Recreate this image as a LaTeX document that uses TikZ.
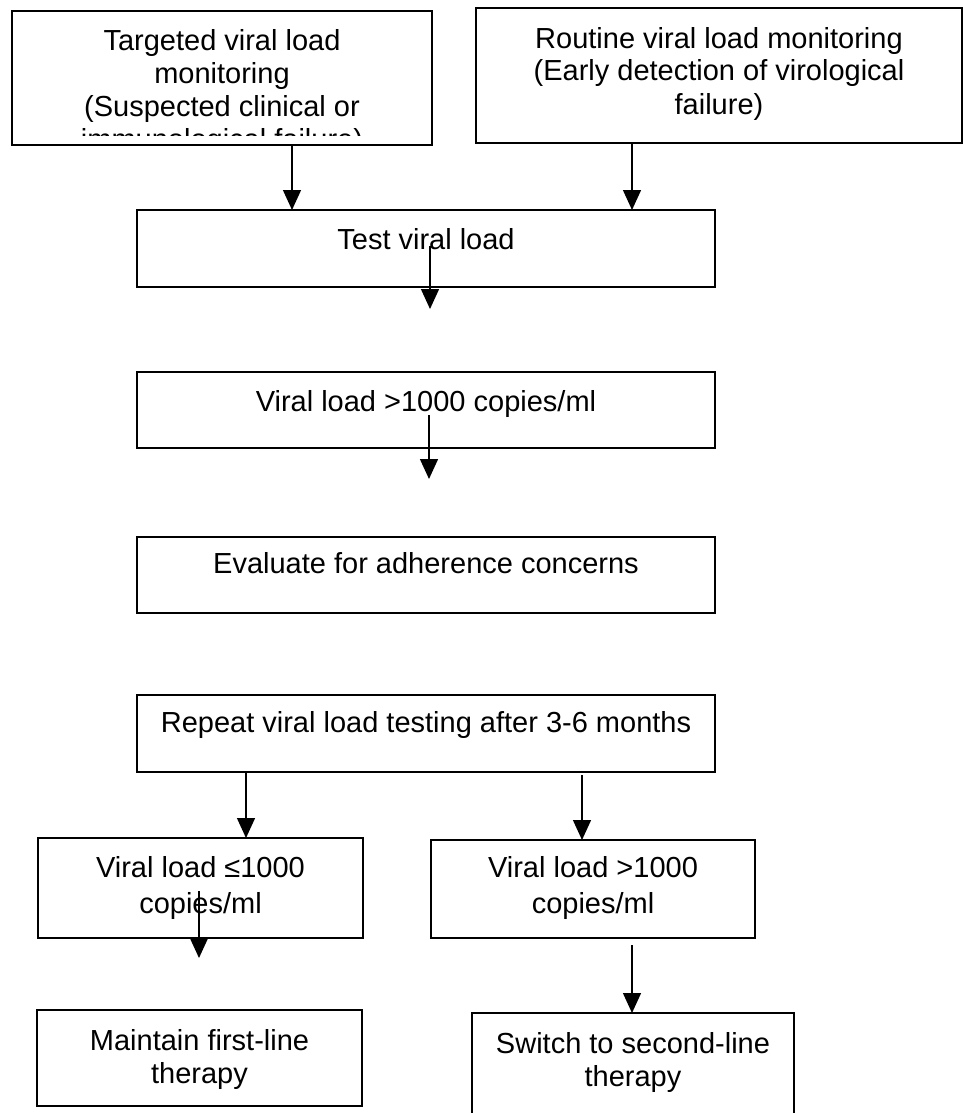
\documentclass[tikz,border=0pt]{standalone}
\usepackage{fontspec}
\setmainfont{Liberation Sans}
\usetikzlibrary{arrows.meta}
\tikzset{
  box/.style={draw=black, line width=1.7pt, anchor=north west, inner sep=0pt, outer sep=0pt},
  % multi-line texts are placed by the baseline of their last line
  txt/.style={font=\fontsize{29}{33}\selectfont, align=center, anchor=base, inner sep=0pt},
  widetxt/.style={txt, font=\fontsize{29}{36}\selectfont},
  arr/.style={line width=1.4pt, -{Triangle[length=20pt,width=18pt]}},
}
\begin{document}
\begin{tikzpicture}[x=1pt,y=-1pt]
\useasboundingbox (0,0) rectangle (963,1113);

% boxes
\node[box, minimum width=420, minimum height=134] (tgt) at (12,11) {};
\node[box, minimum width=486, minimum height=135] (rtn) at (476,8) {};
\node[box, minimum width=578, minimum height=77] (test) at (137,210) {};
\node[box, minimum width=578, minimum height=76] (high) at (137,372) {};
\node[box, minimum width=578, minimum height=76] (eval) at (137,537) {};
\node[box, minimum width=578, minimum height=77] (rep) at (137,695) {};
\node[box, minimum width=325, minimum height=100] (low2) at (38,838) {};
\node[box, minimum width=324, minimum height=98] (high2) at (431,840) {};
\node[box, minimum width=325, minimum height=96] (keep) at (37,1010) {};
\node[box, minimum width=322, minimum height=120] (switch) at (472,1013) {};

% box texts (the first box cuts its last line off)
\begin{scope}
  \clip (12,11) rectangle (432,135.5);
  \node[txt] (tgt-t) at (222,149.7) {Targeted viral load\\monitoring\\(Suspected clinical or\\immunological failure)};
\end{scope}
\node[txt] (rtn-t) at (719,114) {Routine viral load monitoring\\(Early detection of virological\\failure)};
\node[txt] (test-t) at (426,249) {Test viral load};
\node[txt] (high-t) at (426,411) {Viral load >1000 copies/ml};
\node[txt] (eval-t) at (426,573) {Evaluate for adherence concerns};
\node[txt] (rep-t) at (426,732) {Repeat viral load testing after 3-6 months};
\node[widetxt] (low2-t) at (200.5,913) {Viral load ≤1000\\copies/ml};
\node[widetxt] (high2-t) at (593,913) {Viral load >1000\\copies/ml};
\node[txt] (keep-t) at (199.5,1083) {Maintain first-line\\therapy};
\node[txt] (switch-t) at (633,1086) {Switch to second-line\\therapy};

% arrow columns and free arrow ends
\coordinate (c1) at (292,0);
\coordinate (c2) at (632,0);
\coordinate (c3) at (246,0);
\coordinate (c4) at (582,0);
\coordinate (s1) at (430,246);
\coordinate (e1) at (430,309);
\coordinate (s2) at (429,415);
\coordinate (e2) at (429,479);
\coordinate (s3) at (199,891);
\coordinate (e3) at (199,958);
\coordinate (s4) at (632,945);

% connectors
\draw[arr] (tgt.south -| c1) -- (test.north -| c1);
\draw[arr] (rtn.south -| c2) -- (test.north -| c2);
\draw[arr] (s1) -- (e1);
\draw[arr] (s2) -- (e2);
\draw[arr] (rep.south -| c3) -- (low2.north -| c3);
\draw[arr] ([yshift=-3pt]rep.south -| c4) -- (high2.north -| c4);
\draw[arr] (s3) -- (e3);
\draw[arr] (s4) -- (switch.north -| s4);
\end{tikzpicture}
\end{document}
